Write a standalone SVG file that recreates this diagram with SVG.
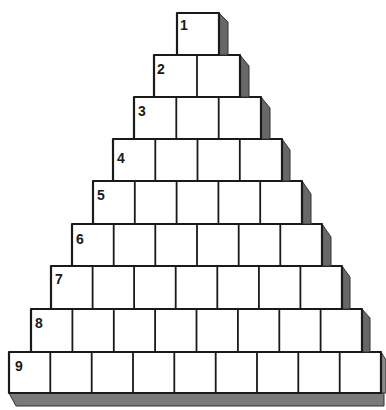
<svg xmlns="http://www.w3.org/2000/svg" width="386" height="410" viewBox="0 0 386 410">
<defs>
<style>
.box{fill:#ffffff;stroke:#1a1a1a;stroke-width:2.2;stroke-linejoin:round}
.div{stroke:#1a1a1a;stroke-width:1.8}
.sh{fill:#686868;stroke:#333333;stroke-width:1}
.num{font-family:"Liberation Sans",Arial,sans-serif;font-size:14px;font-weight:bold;fill:#1a1a1a}
</style>
</defs>
<rect x="0" y="0" width="386" height="410" fill="#ffffff"/>
<g id="base-shadow">
<polygon class="sh" style="fill:#7a7a7a" points="9,393 384,393 384,406 16,406"/>
</g>
<g id="row-9">
<polygon class="sh" style="fill:#8a8a8a" points="381,352 386,360 386,393 381,393"/>
<rect class="box" x="9" y="352" width="372" height="41"/>
<path class="div" d="M50.3 352V393M91.7 352V393M133 352V393M174.3 352V393M215.7 352V393M257 352V393M298.3 352V393M339.7 352V393"/>
<text class="num" x="15" y="371">9</text>
</g>
<g id="row-8">
<polygon class="sh" points="362,309 370,318 370,352 362,352"/>
<rect class="box" x="31" y="309" width="331" height="43"/>
<path class="div" d="M72.4 309V352M113.8 309V352M155.1 309V352M196.5 309V352M237.9 309V352M279.3 309V352M320.6 309V352"/>
<text class="num" x="35" y="328">8</text>
</g>
<g id="row-7">
<polygon class="sh" points="342,266 350,277 350,309 342,309"/>
<rect class="box" x="51" y="266" width="291" height="43"/>
<path class="div" d="M92.6 266V309M134.1 266V309M175.7 266V309M217.3 266V309M258.9 266V309M300.4 266V309"/>
<text class="num" x="55" y="284">7</text>
</g>
<g id="row-6">
<polygon class="sh" points="322,224 331,237 331,266 322,266"/>
<rect class="box" x="72" y="224" width="250" height="42"/>
<path class="div" d="M113.7 224V266M155.3 224V266M197 224V266M238.7 224V266M280.3 224V266"/>
<text class="num" x="76" y="244">6</text>
</g>
<g id="row-5">
<polygon class="sh" points="302,181 311,194 311,224 302,224"/>
<rect class="box" x="93" y="181" width="209" height="43"/>
<path class="div" d="M134.8 181V224M176.6 181V224M218.4 181V224M260.2 181V224"/>
<text class="num" x="97" y="200">5</text>
</g>
<g id="row-4">
<polygon class="sh" points="282,139 290,150 290,181 282,181"/>
<rect class="box" x="113" y="139" width="169" height="42"/>
<path class="div" d="M155.3 139V181M197.5 139V181M239.8 139V181"/>
<text class="num" x="117" y="163">4</text>
</g>
<g id="row-3">
<polygon class="sh" points="261,97 270,108 270,139 261,139"/>
<rect class="box" x="134" y="97" width="127" height="42"/>
<path class="div" d="M176.3 97V139M218.7 97V139"/>
<text class="num" x="138" y="116">3</text>
</g>
<g id="row-2">
<polygon class="sh" points="240,55 249,66 249,97 240,97"/>
<rect class="box" x="154" y="55" width="86" height="42"/>
<path class="div" d="M197 55V97"/>
<text class="num" x="157" y="74">2</text>
</g>
<g id="row-1">
<polygon class="sh" points="219,13 228,22 228,55 219,55"/>
<rect class="box" x="177" y="13" width="42" height="42"/>
<text class="num" x="180" y="30">1</text>
</g>
</svg>
